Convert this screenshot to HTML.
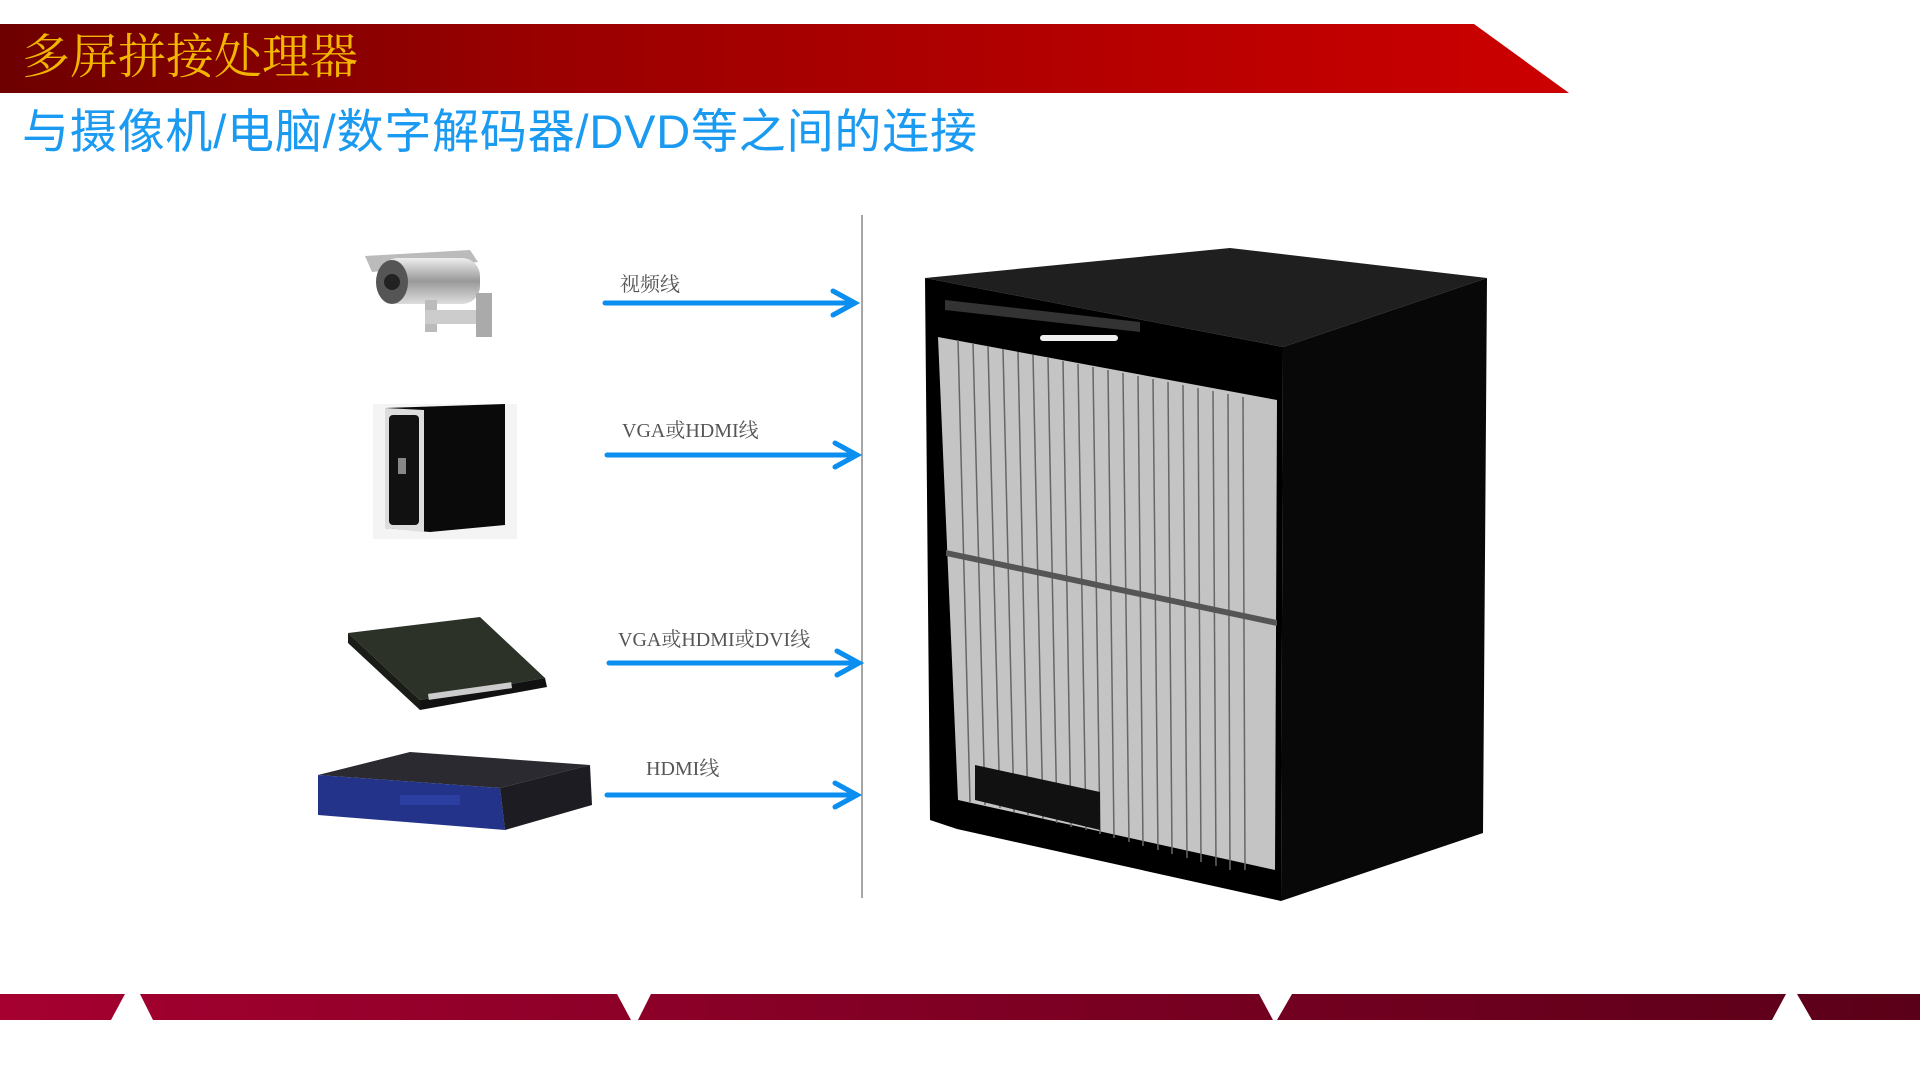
<!DOCTYPE html>
<html><head><meta charset="utf-8"><style>
html,body{margin:0;padding:0;width:1920px;height:1080px;background:#fff;overflow:hidden;position:relative;font-family:"Liberation Sans","Noto Sans CJK SC",sans-serif}
.t{position:absolute;white-space:nowrap}
.lbl{position:absolute;white-space:nowrap;font-family:"Liberation Serif","Noto Serif CJK SC",serif;font-size:20px;color:#555}
</style></head><body>
<svg width="1920" height="1080" style="position:absolute;left:0;top:0">
<defs>
<linearGradient id="hg" x1="0" x2="1"><stop offset="0" stop-color="#6e0000"/><stop offset="0.35" stop-color="#9a0000"/><stop offset="1" stop-color="#cc0000"/></linearGradient>
<linearGradient id="bg" gradientUnits="userSpaceOnUse" x1="0" y1="0" x2="1920" y2="0"><stop offset="0" stop-color="#a50030"/><stop offset="1" stop-color="#5a0018"/></linearGradient>
<linearGradient id="cam" x1="0" y1="0" x2="0" y2="1"><stop offset="0" stop-color="#eee"/><stop offset="0.5" stop-color="#999"/><stop offset="1" stop-color="#ddd"/></linearGradient>
</defs>
<polygon points="0,24 1474,24 1569,93 0,93" fill="url(#hg)"/>
<g fill="url(#bg)">
<polygon points="0,994 125,994 111,1020 0,1020"/>
<polygon points="140,994 617,994 631,1020 153,1020"/>
<polygon points="651,994 1259,994 1273,1020 638,1020"/>
<polygon points="1292,994 1786,994 1772,1020 1277,1020"/>
<polygon points="1797,994 1920,994 1920,1020 1812,1020"/>
</g>
<line x1="862" y1="215" x2="862" y2="898" stroke="#888" stroke-width="1.5"/>
<g stroke="#0a8ef0" stroke-width="5" fill="none" stroke-linecap="round">
<line x1="605" y1="303" x2="853" y2="303"/><polyline points="833,291 855,303 833,315"/>
<line x1="607" y1="455" x2="855" y2="455"/><polyline points="835,443 857,455 835,467"/>
<line x1="609" y1="663" x2="857" y2="663"/><polyline points="837,651 859,663 837,675"/>
<line x1="607" y1="795" x2="855" y2="795"/><polyline points="835,783 857,795 835,807"/>
</g>
<!-- camera -->
<g>
<polygon points="365,256 470,250 478,262 372,272" fill="#bbb"/>
<rect x="380" y="258" width="100" height="46" rx="18" fill="url(#cam)"/>
<ellipse cx="392" cy="282" rx="16" ry="22" fill="#555"/>
<circle cx="392" cy="282" r="8" fill="#222"/>
<rect x="425" y="300" width="12" height="32" fill="#bbb"/>
<rect x="425" y="310" width="65" height="14" fill="#ccc"/>
<rect x="476" y="293" width="16" height="44" fill="#aaa"/>
</g>
<!-- PC -->
<g>
<rect x="373" y="404" width="144" height="135" fill="#f4f4f4"/>
<polygon points="385,408 505,404 505,525 430,532 385,528" fill="#0a0a0a"/>
<polygon points="385,408 424,410 424,532 385,528" fill="#ddd"/>
<rect x="389" y="415" width="30" height="110" rx="4" fill="#111"/>
<rect x="398" y="458" width="8" height="16" fill="#888"/>
</g>
<!-- decoder -->
<g>
<polygon points="348,633 480,617 545,678 420,700" fill="#2c3227"/>
<polygon points="348,633 420,700 420,710 348,643" fill="#1a1d17"/>
<polygon points="420,700 545,678 547,687 420,710" fill="#111"/>
<rect x="428" y="688" width="84" height="6" fill="#ccc" transform="rotate(-8 470 691)"/>
</g>
<!-- DVD -->
<g>
<polygon points="318,775 410,752 590,765 500,788" fill="#2a2a30"/>
<polygon points="318,775 500,788 505,830 318,815" fill="#23338a"/>
<polygon points="500,788 590,765 592,805 505,830" fill="#1c1c22"/>
<rect x="400" y="795" width="60" height="10" fill="#2a3fa0"/>
</g>
<!-- rack -->
<g>
<polygon points="925,278 1230,248 1487,278 1283,347" fill="#1f1f1f"/>
<polygon points="1283,347 1487,278 1483,833 1281,901" fill="#080808"/>
<polygon points="925,278 1283,347 1281,901 957,829 930,820" fill="#000"/>
<polygon points="938,337 1277,400 1275,870 958,800" fill="#c4c4c4"/>
<g stroke="#666" stroke-width="1.5">
<line x1="958" y1="340" x2="970" y2="802"/><line x1="973" y1="343" x2="985" y2="805"/><line x1="988" y1="346" x2="1000" y2="808"/>
<line x1="1003" y1="349" x2="1014" y2="812"/><line x1="1018" y1="352" x2="1028" y2="816"/><line x1="1033" y1="355" x2="1043" y2="819"/>
<line x1="1048" y1="358" x2="1057" y2="823"/><line x1="1063" y1="361" x2="1071" y2="827"/><line x1="1078" y1="364" x2="1086" y2="830"/>
<line x1="1093" y1="367" x2="1100" y2="834"/><line x1="1108" y1="370" x2="1114" y2="838"/><line x1="1123" y1="373" x2="1129" y2="842"/>
<line x1="1138" y1="376" x2="1143" y2="846"/><line x1="1153" y1="379" x2="1158" y2="850"/><line x1="1168" y1="382" x2="1172" y2="854"/>
<line x1="1183" y1="385" x2="1187" y2="858"/><line x1="1198" y1="388" x2="1201" y2="862"/><line x1="1213" y1="391" x2="1216" y2="866"/>
<line x1="1228" y1="394" x2="1230" y2="870"/><line x1="1243" y1="397" x2="1245" y2="870"/>
</g>
<polygon points="946,550 1277,620 1277,626 946,556" fill="#555"/>
<polygon points="975,765 1100,792 1100,830 975,800" fill="#111"/>
<rect x="1040" y="335" width="78" height="6" rx="3" fill="#eee"/>
<polygon points="945,300 1140,322 1140,332 945,310" fill="#333"/>
</g>
</svg>
<div class="t" style="left:22px;top:26px;font-size:48px;color:#f2b500;font-family:'Liberation Serif','Noto Serif CJK SC',serif;line-height:64px">多屏拼接处理器</div>
<div class="t" style="left:22px;top:100px;font-size:47px;color:#1a9af0;line-height:64px;letter-spacing:0.8px">与摄像机/电脑/数字解码器/DVD等之间的连接</div>
<div class="lbl" style="left:620px;top:268px">视频线</div>
<div class="lbl" style="left:622px;top:414px">VGA或HDMI线</div>
<div class="lbl" style="left:618px;top:623px">VGA或HDMI或DVI线</div>
<div class="lbl" style="left:646px;top:752px">HDMI线</div>
</body></html>
